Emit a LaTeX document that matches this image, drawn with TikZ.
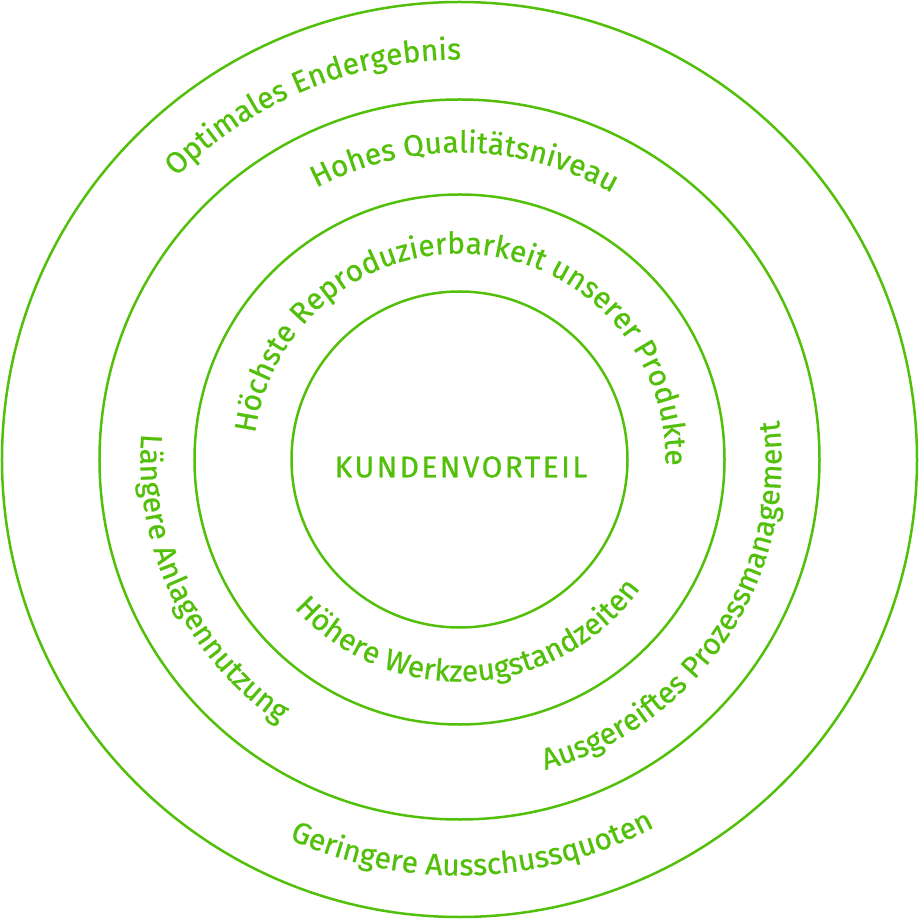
\documentclass[tikz,border=0pt]{standalone}
\usepackage{fontspec}
\setmainfont{Fira Sans}[FakeBold=0.7]
\usetikzlibrary{decorations.text}
\definecolor{kgreen}{RGB}{82,192,10}
\begin{document}
\begin{tikzpicture}[x=1pt,y=1pt,
  ring/.style={draw=kgreen, line width=2.5pt},
  arctext/.style={decorate, decoration={text along path, text align=center, text color=kgreen, text={|\fontsize{30}{36}\selectfont|#1}}}]
\useasboundingbox (-459.5,-460.5) rectangle (459.5,459.5);
\draw[ring] (0,0) circle[radius=457.5];
\draw[ring] (0,0) circle[radius=360];
\draw[ring] (0,0) circle[radius=265];
\draw[ring] (0,0) circle[radius=168];
\node[text=kgreen, font=\fontsize{30}{36}\selectfont\addfontfeatures{LetterSpace=8}] (kv) at (1.5,-7.5) {KUNDENVORTEIL};
\path[arctext={Optimales Endergebnis}] (182.4:400) arc[start angle=182.4, end angle=42.4, radius=400];
\path[arctext={Hohes Qualitätsniveau}] (164:307) arc[start angle=164, end angle=14, radius=307];
\path[arctext={Höchste Reproduzierbarkeit unserer Produkte}] (185:206) arc[start angle=185, end angle=-14, radius=206];
\path[arctext={Höhere Werkzeugstandzeiten}] (203.25:222) arc[start angle=203.25, end angle=343.25, radius=222];
\path[arctext={Geringere Ausschussquoten}] (231.9:416) arc[start angle=231.9, end angle=311.9, radius=416];
\path[arctext={Längere Anlagennutzung}] (160.5:319) arc[start angle=160.5, end angle=250.5, radius=319];
\path[arctext={Ausgereiftes Prozessmanagement}] (266.2:322) arc[start angle=266.2, end angle=386.2, radius=322];
\end{tikzpicture}
\end{document}
